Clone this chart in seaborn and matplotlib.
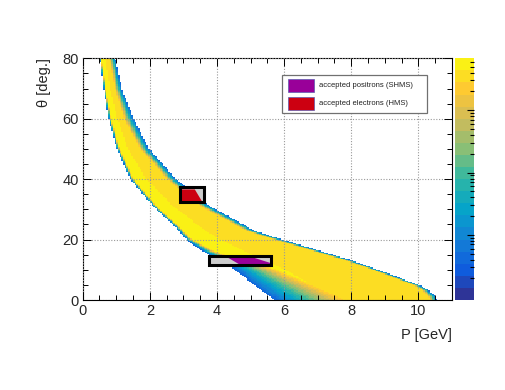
import numpy as np
import pandas as pd
import matplotlib
matplotlib.use("Agg")
import matplotlib.pyplot as plt
import seaborn as sns
from matplotlib.colors import LinearSegmentedColormap, ListedColormap
from matplotlib.patches import Rectangle
from matplotlib.ticker import MultipleLocator, NullFormatter, FixedLocator

# ---------------- data ----------------
# lower (left) edge of the accepted band: theta [deg] -> P [GeV]
lower_theta = [0, 2, 5, 10, 16, 20, 24.3, 31, 40, 50, 60, 70, 80]
lower_P = [5.75, 5.45, 5.10, 4.55, 3.60, 3.10, 2.75, 2.10, 1.42, 1.02, 0.77, 0.62, 0.51]
# upper (right) edge of the band
upper_theta = [0, 1.1, 3.3, 5, 6.6, 9.9, 13.2, 14.3, 20, 23, 26.5, 31, 40, 50, 60, 70, 80]
upper_P = [10.54, 10.51, 10.31, 10.02, 9.62, 8.83, 7.99, 7.64, 5.96, 5.10, 4.55, 3.80, 2.78, 1.98, 1.52, 1.16, 0.97]
# width of the low-count fringe on each side (fraction of band width)
fringe_theta = [0, 5, 10, 16, 20, 30, 45, 60, 80]
fringe_lo = [0.45, 0.36, 0.30, 0.10, 0.06, 0.06, 0.08, 0.10, 0.10]
fringe_hi = [0.04, 0.04, 0.04, 0.06, 0.09, 0.16, 0.22, 0.38, 0.38]
# colour level across the core of the band (0 = lower edge, 1 = upper edge)
core_t = [0.0, 0.25, 0.5, 0.75, 1.0]
core_level = [0.98, 0.97, 0.92, 0.91, 0.90]
edge_level = 0.15

# accepted electrons (HMS) and positrons (SHMS) regions
ele_P = [2.94, 3.34, 3.55, 2.94]
ele_theta = [36.6, 36.6, 32.7, 32.7]
pos_P = [4.25, 4.95, 5.58, 5.58, 4.65]
pos_theta = [14.5, 14.5, 12.3, 11.9, 11.9]
# acceptance boxes: (P0, P1, theta0, theta1)
box_hms = (2.905, 3.61, 32.6, 37.25)
box_shms = (3.76, 5.62, 11.75, 14.7)

legend_labels = ["accepted positrons (SHMS)", "accepted electrons (HMS)"]
legend_colors = ["#990099", "#cc0011"]

# colour-bar (log z) range
z_min, z_max = 0.9, 6800

# ---------------- colour palette (ROOT kBird, 20 contours) ----------------
stops = [0.0, 0.125, 0.25, 0.375, 0.5, 0.625, 0.75, 0.875, 1.0]
red = [0.2082, 0.0592, 0.0780, 0.0232, 0.1802, 0.5301, 0.8186, 0.9956, 0.9764]
green = [0.1664, 0.3599, 0.5041, 0.6419, 0.7178, 0.7492, 0.7328, 0.7862, 0.9832]
blue = [0.5293, 0.8684, 0.8385, 0.7914, 0.6425, 0.4662, 0.3499, 0.1968, 0.0539]
bird = LinearSegmentedColormap.from_list(
    "bird", [(s, (r, g, b)) for s, r, g, b in zip(stops, red, green, blue)])
ncont = 20
cmap = ListedColormap([bird((i + 0.5) / ncont) for i in range(ncont)])

# ---------------- build histogram cells ----------------
P_edges = np.linspace(0, 11, 221)
th_edges = np.linspace(0, 80, 201)
Pc = 0.5 * (P_edges[:-1] + P_edges[1:])
thc = 0.5 * (th_edges[:-1] + th_edges[1:])
PP, TT = np.meshgrid(Pc, thc)
plo = np.interp(TT, lower_theta, lower_P)
phi = np.interp(TT, upper_theta, upper_P)
t = (PP - plo) / (phi - plo)
inside = (t >= 0) & (t <= 1)
flo = np.interp(TT, fringe_theta, fringe_lo)
fhi = np.interp(TT, fringe_theta, fringe_hi)
s = np.minimum(np.minimum(t / flo, (1 - t) / fhi), 1.0)
inner = np.interp(t, core_t, core_level)
val = edge_level + (inner - edge_level) * np.clip(s, 0, 1)
df = pd.DataFrame({"P": PP[inside], "theta": TT[inside], "w": val[inside]})

# ---------------- figure ----------------
W, H = 505, 390
sns.set_style("white")
plt.rcParams["font.family"] = ["Liberation Sans", "DejaVu Sans"]
plt.rcParams["axes.axisbelow"] = False
fig = plt.figure(figsize=(W / 100, H / 100), dpi=100)

def fx(px):
    return px / W

def fy(py):
    return 1 - py / H

ax = fig.add_axes([fx(82.7), fy(300), fx(452) - fx(82.7), fy(58.3) - fy(300)])
sns.histplot(data=df, x="P", y="theta", weights="w", bins=[P_edges, th_edges],
             cmap=cmap, vmin=0, vmax=1, ax=ax, cbar=False)

ax.set_xlim(0, 11)
ax.set_ylim(0, 80)
ax.set_xlabel("")
ax.set_ylabel("")
ax.xaxis.set_major_locator(MultipleLocator(2))
ax.xaxis.set_minor_locator(MultipleLocator(0.5))
ax.yaxis.set_major_locator(MultipleLocator(20))
ax.yaxis.set_minor_locator(MultipleLocator(5))
ax.tick_params(which="both", direction="in", top=True, right=True, bottom=True, left=True,
               color="black", labelsize=10.5, pad=3)
ax.tick_params(which="major", length=6, width=0.7)
ax.tick_params(which="minor", length=3.5, width=0.7)
for sp in ax.spines.values():
    sp.set_color("black")
    sp.set_linewidth(0.8)
ax.set_axisbelow(False)
ax.grid(True, which="major", color="#999999", linestyle=(0, (1, 1.5)), linewidth=0.8, zorder=2.5)

# acceptance boxes with accepted events
for (p0, p1, t0, t1) in [box_hms, box_shms]:
    ax.add_patch(Rectangle((p0, t0), p1 - p0, t1 - t0, facecolor="#cccccc",
                           edgecolor="none", zorder=3))
ax.fill(ele_P, ele_theta, color=legend_colors[1], zorder=4, lw=0)
ax.fill(pos_P, pos_theta, color=legend_colors[0], zorder=4, lw=0)
for (p0, p1, t0, t1) in [box_hms, box_shms]:
    ax.add_patch(Rectangle((p0, t0), p1 - p0, t1 - t0, facecolor="none",
                           edgecolor="black", linewidth=2.2, zorder=5))

# colour bar (log z, 20 contour colours, no labels)
cax = fig.add_axes([fx(455), fy(300), fx(474) - fx(455), fy(58.3) - fy(300)])
z_edges = np.logspace(np.log10(z_min), np.log10(z_max), ncont + 1)
cax.pcolormesh([0, 1], z_edges, np.arange(ncont).reshape(-1, 1), cmap=cmap,
               vmin=-0.5, vmax=ncont - 0.5, zorder=0)
cax.set_yscale("log")
cax.set_ylim(z_min, z_max)
cax.set_xlim(0, 1)
cax.set_xticks([])
cax.set_axisbelow(False)
for sp in cax.spines.values():
    sp.set_visible(False)
major_ticks = [10, 100, 1000]
minor_ticks = [m * 10 ** e for e in range(0, 4) for m in range(2, 10) if m * 10 ** e < z_max]
cax.yaxis.set_major_locator(FixedLocator(major_ticks))
cax.yaxis.set_minor_locator(FixedLocator(minor_ticks))
cax.yaxis.set_major_formatter(NullFormatter())
cax.yaxis.set_minor_formatter(NullFormatter())
cax.tick_params(axis="y", which="both", direction="in", color="black", width=0.8,
                right=True, left=False, labelleft=False, labelright=False)
cax.tick_params(axis="y", which="major", length=5)
cax.tick_params(axis="y", which="minor", length=3)

# axis titles
fig.text(fx(452), fy(339), "P [GeV]", ha="right", va="baseline", fontsize=10.5)
fig.text(fx(44), fy(58), "θ [deg.]", ha="center", va="top", rotation=90, fontsize=10.5)

# legend
fig.add_artist(Rectangle((fx(282.3), fy(113.3)), fx(426.7) - fx(282.3), fy(75) - fy(113.3),
                         transform=fig.transFigure, facecolor="white",
                         edgecolor="#707070", linewidth=0.9, zorder=10))
for i, (lab, col) in enumerate(zip(legend_labels, legend_colors)):
    top = 79 + i * 18.3
    fig.add_artist(Rectangle((fx(288.3), fy(top + 13)), fx(314) - fx(288.3), fy(top) - fy(top + 13),
                             transform=fig.transFigure, facecolor=col,
                             edgecolor="#5a5ab0", linewidth=0.5, zorder=11))
    fig.text(fx(319.3), fy(top + 6.5), lab, ha="left", va="center", fontsize=5.5,
             color="#222222", zorder=12)

fig.savefig("out.png", dpi=100)
